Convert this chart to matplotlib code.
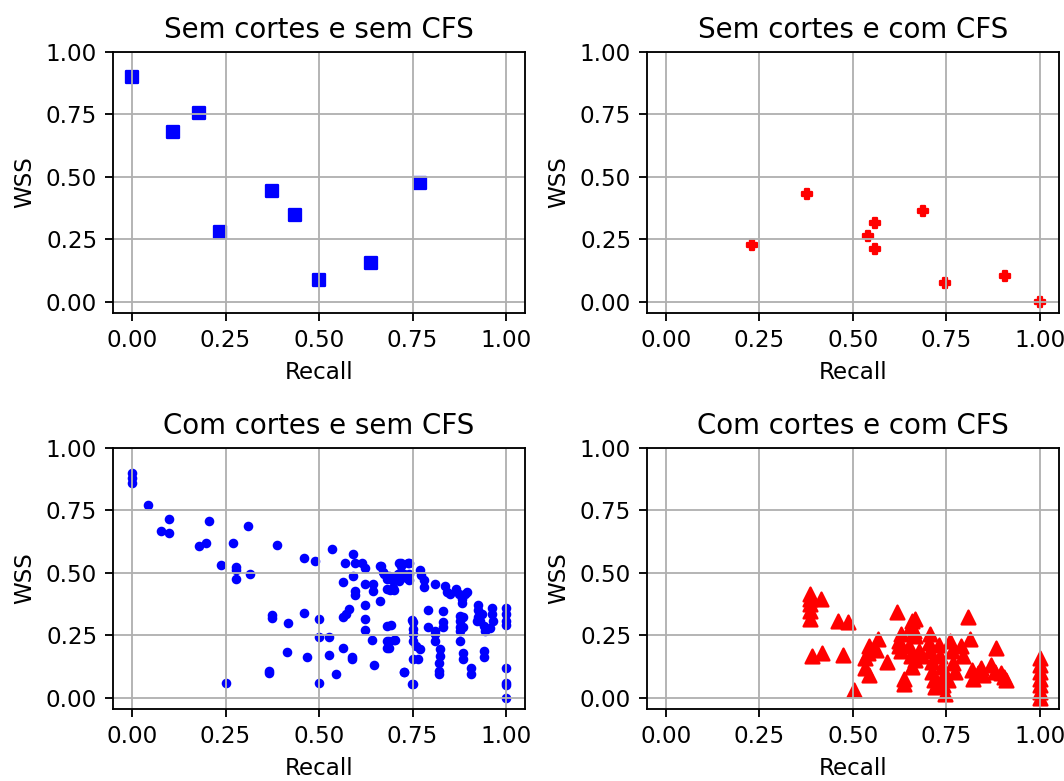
import matplotlib

matplotlib.use("Agg")
import matplotlib.pyplot as plt

# Sem cortes e sem CFS
recall_a = [0.0, 0.109, 0.178, 0.235, 0.373, 0.437, 0.50, 0.639, 0.770]
wss_a = [0.899, 0.68, 0.756, 0.28, 0.443, 0.347, 0.087, 0.156, 0.476]

# Sem cortes e com CFS
recall_b = [0.23, 0.376, 0.541, 0.56, 0.56, 0.688, 0.747, 0.906, 1.0]
wss_b = [0.227, 0.432, 0.263, 0.316, 0.213, 0.363, 0.076, 0.105, 0.0]

# Com cortes e sem CFS
recall_c = [
    0.0, 0.0, 0.0, 0.043, 0.10, 0.077, 0.10, 0.206, 0.178, 0.197, 0.269, 0.311,
    0.237, 0.278, 0.278, 0.278, 0.315, 0.387, 0.46, 0.488,
    0.374, 0.374, 0.418, 0.46, 0.5, 0.5, 0.528,
    0.415, 0.469, 0.365, 0.365, 0.25, 0.5,
    0.536, 0.592, 0.569, 0.597, 0.615, 0.624, 0.592,
    0.664, 0.674, 0.564, 0.595, 0.595, 0.623, 0.645, 0.645,
    0.624, 0.664, 0.579, 0.572, 0.565, 0.624, 0.624,
    0.528, 0.564, 0.587, 0.587, 0.646, 0.546,
    0.683, 0.683, 0.683, 0.683, 0.683,
    0.686, 0.695, 0.713, 0.739, 0.717, 0.735, 0.713, 0.699, 0.69,
    0.665, 0.67, 0.697, 0.697, 0.697, 0.701, 0.719, 0.719, 0.74, 0.74, 0.74,
    0.728, 0.728, 0.71, 0.643, 0.704, 0.726, 0.748, 0.748,
    0.769, 0.773, 0.782, 0.782, 0.81, 0.837, 0.841, 0.85, 0.866, 0.873, 0.882,
    0.89, 0.895, 0.882,
    0.924, 0.924, 0.924, 0.922, 0.963, 0.963, 0.966, 0.958, 0.936, 0.931, 0.94, 0.945,
    1.0, 1.0, 1.0, 1.0,
    0.792, 0.832, 0.877, 0.877, 0.877, 0.877, 0.877, 0.885, 0.885, 0.832, 0.832,
    0.792, 0.81, 0.81, 0.81, 0.692, 0.75, 0.75, 0.75, 0.75, 0.688, 0.701, 0.686,
    0.76, 0.769, 0.764, 0.75, 0.823, 0.823, 0.821, 0.821, 0.821, 0.885, 0.885,
    0.94, 0.94, 0.906, 0.906, 0.728, 0.751, 1.0, 1.0, 1.0, 1.0,
]
wss_c = [
    0.90, 0.88, 0.86, 0.77, 0.717, 0.669, 0.661, 0.709, 0.606, 0.62, 0.62, 0.687,
    0.531, 0.523, 0.51, 0.477, 0.497, 0.612, 0.559, 0.546,
    0.333, 0.32, 0.30, 0.341, 0.316, 0.245, 0.245,
    0.184, 0.163, 0.108, 0.099, 0.06, 0.06,
    0.594, 0.574, 0.539, 0.539, 0.539, 0.52, 0.489,
    0.527, 0.496, 0.464, 0.429, 0.413, 0.456, 0.456, 0.429,
    0.373, 0.389, 0.354, 0.336, 0.322, 0.314, 0.273,
    0.17, 0.198, 0.164, 0.154, 0.13, 0.095,
    0.476, 0.436, 0.289, 0.226, 0.199,
    0.486, 0.473, 0.54, 0.54, 0.5, 0.48, 0.466, 0.439, 0.432,
    0.527, 0.504, 0.484, 0.47, 0.437, 0.43, 0.54, 0.527, 0.538, 0.497, 0.47,
    0.484, 0.497, 0.497, 0.232, 0.232, 0.104, 0.311, 0.057,
    0.513, 0.49, 0.47, 0.444, 0.454, 0.446, 0.423, 0.417, 0.437, 0.417, 0.396,
    0.417, 0.423, 0.379,
    0.37, 0.35, 0.323, 0.309, 0.36, 0.336, 0.309, 0.28, 0.336, 0.309, 0.289, 0.269,
    0.36, 0.336, 0.306, 0.293,
    0.352, 0.347, 0.329, 0.309, 0.282, 0.269, 0.228, 0.323, 0.282, 0.302, 0.282,
    0.285, 0.269, 0.255, 0.228, 0.293, 0.302, 0.276, 0.255, 0.228, 0.228, 0.231, 0.199,
    0.208, 0.195, 0.155, 0.157, 0.195, 0.168, 0.141, 0.108, 0.094, 0.181, 0.155,
    0.188, 0.164, 0.121, 0.094, 0.105, 0.056, 0.118, 0.06, 0.051, 0.0,
]

# Com cortes e com CFS
recall_d = [
    0.384, 0.384, 0.384, 0.384, 0.384, 0.414, 0.39, 0.418, 0.46, 0.487, 0.474, 0.502,
    0.619, 0.658, 0.667, 0.654, 0.663, 0.667, 0.808,
    0.628, 0.623, 0.623, 0.628,
    0.566, 0.544, 0.54, 0.531, 0.531, 0.544, 0.562, 0.592, 0.636, 0.636,
    0.65, 0.654, 0.658, 0.667, 0.676, 0.685,
    0.707, 0.702, 0.707, 0.711, 0.711, 0.716, 0.72,
    0.729, 0.733, 0.738, 0.742, 0.742, 0.746,
    0.76, 0.764, 0.768, 0.773, 0.755,
    0.79, 0.795, 0.812, 0.817, 0.821, 0.835, 0.843, 0.848,
    0.883, 0.87, 0.879, 0.896, 0.905, 0.909,
    1.0, 1.0, 1.0, 1.0, 1.0, 1.0, 1.0,
]
wss_d = [
    0.417, 0.397, 0.376, 0.349, 0.315, 0.397, 0.166, 0.179, 0.308, 0.304, 0.173, 0.03,
    0.342, 0.308, 0.315, 0.288, 0.268, 0.247, 0.322,
    0.254, 0.227, 0.207, 0.186,
    0.234, 0.207, 0.179, 0.159, 0.118, 0.091, 0.193, 0.145, 0.077, 0.057,
    0.207, 0.166, 0.125, 0.152, 0.186, 0.166,
    0.254, 0.22, 0.186, 0.145, 0.105, 0.071, 0.043,
    0.213, 0.166, 0.125, 0.084, 0.05, 0.016,
    0.227, 0.186, 0.139, 0.105, 0.071,
    0.207, 0.166, 0.234, 0.111, 0.077, 0.098, 0.118, 0.091,
    0.2, 0.132, 0.105, 0.098, 0.084, 0.071,
    0.159, 0.132, 0.105, 0.077, 0.05, 0.023, 0.0,
]

ticks = [0.0, 0.25, 0.5, 0.75, 1.0]


def main() -> None:
    dpi = 166
    fig, axes = plt.subplots(2, 2, figsize=(1064 / dpi, 781 / dpi), dpi=dpi)

    panels = [
        ("Sem cortes e sem CFS", recall_a, wss_a, "b", "s", 28),
        ("Sem cortes e com CFS", recall_b, wss_b, "r", "P", 20),
        ("Com cortes e sem CFS", recall_c, wss_c, "b", ".", 40),
        ("Com cortes e com CFS", recall_d, wss_d, "r", "^", 36),
    ]

    for ax, (title, x, y, color, marker, size) in zip(axes.flat, panels):
        ax.scatter(x, y, c=color, marker=marker, s=size)
        ax.set_title(title)
        ax.set_xlabel("Recall")
        ax.set_ylabel("WSS")
        ax.set_xticks(ticks)
        ax.set_yticks(ticks)
        ax.set_xlim(-0.05, 1.05)
        ax.set_ylim(-0.045, 1.0)
        ax.grid(True)

    fig.subplots_adjust(left=0.1065, right=0.995, top=0.9334, bottom=0.0922,
                        wspace=0.298, hspace=0.517)
    fig.savefig("out.png", dpi=dpi)


if __name__ == "__main__":
    main()
